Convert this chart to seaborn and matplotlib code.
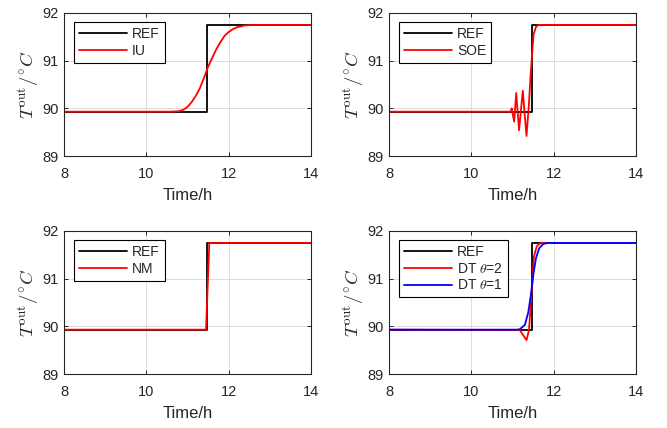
import numpy as np
import pandas as pd
import matplotlib
matplotlib.use("Agg")
import matplotlib.pyplot as plt
import seaborn as sns

# reference step
t_ref = [8, 11.48, 11.48, 14]
y_ref = [89.93, 89.93, 91.75, 91.75]

# IU
t_iu = [8, 10.6, 10.8, 10.9, 11.0, 11.1, 11.2, 11.3, 11.4, 11.5, 11.6, 11.7,
        11.8, 11.9, 12.0, 12.1, 12.2, 12.3, 12.4, 12.6, 12.8, 14]
y_iu = [89.93, 89.93, 89.94, 89.97, 90.03, 90.13, 90.26, 90.42, 90.64, 90.87,
        91.06, 91.24, 91.39, 91.52, 91.60, 91.66, 91.70, 91.72, 91.74, 91.75,
        91.75, 91.75]

# SOE
t_soe = [8, 10.96, 10.98, 11.00, 11.04, 11.09, 11.16, 11.25, 11.34, 11.40,
         11.44, 11.47, 11.51, 11.57, 11.63, 11.70, 14]
y_soe = [89.93, 89.93, 90.00, 89.90, 89.72, 90.32, 89.54, 90.37, 89.42, 90.10,
         90.70, 91.06, 91.54, 91.71, 91.75, 91.75, 91.75]

# NM
t_nm = [8, 11.45, 11.53, 14]
y_nm = [89.93, 89.93, 91.75, 91.75]

# DT theta=2
t_dt2 = [8, 11.18, 11.34, 11.40, 11.47, 11.52, 11.59, 11.65, 11.71, 14]
y_dt2 = [89.93, 89.92, 89.71, 89.92, 90.76, 91.46, 91.68, 91.73, 91.75, 91.75]

# DT theta=1
t_dt1 = [8, 11.10, 11.18, 11.30, 11.38, 11.44, 11.51, 11.57, 11.65, 11.75,
         11.87, 12.0, 14]
y_dt1 = [89.93, 89.93, 89.94, 90.03, 90.28, 90.62, 91.11, 91.43, 91.64,
         91.73, 91.75, 91.75, 91.75]

panels = [
    [("REF", t_ref, y_ref, "black"), ("IU", t_iu, y_iu, "red")],
    [("REF", t_ref, y_ref, "black"), ("SOE", t_soe, y_soe, "red")],
    [("REF", t_ref, y_ref, "black"), ("NM", t_nm, y_nm, "red")],
    [("REF", t_ref, y_ref, "black"), (r"DT $\theta$=2", t_dt2, y_dt2, "red"),
     (r"DT $\theta$=1", t_dt1, y_dt1, "blue")],
]

sns.set_theme(style="ticks")
plt.rcParams["font.family"] = ["Liberation Sans", "DejaVu Sans"]
plt.rcParams["mathtext.fontset"] = "cm"

axcol = "#262626"
fig = plt.figure(figsize=(6.67, 4.28), dpi=100)

positions = [
    (64 / 667, 1 - 156 / 428, 247 / 667, 143 / 428),
    (389 / 667, 1 - 156 / 428, 247 / 667, 143 / 428),
    (64 / 667, 1 - 374 / 428, 247 / 667, 143 / 428),
    (389 / 667, 1 - 374 / 428, 247 / 667, 143 / 428),
]

for pos, series in zip(positions, panels):
    ax = fig.add_axes(pos)
    for label, t, y, c in series:
        df = pd.DataFrame({"t": t, "y": y})
        sns.lineplot(data=df, x="t", y="y", ax=ax, color=c, lw=1.3,
                     label=label, estimator=None, sort=False)
    ax.set_xlim(8, 14)
    ax.set_ylim(89, 92)
    ax.set_xticks([8, 10, 12, 14])
    ax.set_yticks([89, 90, 91, 92])
    ax.grid(True, color="#dcdcdc", lw=0.7)
    ax.tick_params(direction="in", length=2.8, width=0.7, colors=axcol,
                   labelsize=10.5, top=True, right=True, labelcolor=axcol)
    ax.tick_params(axis="x", pad=8)
    ax.tick_params(axis="y", pad=4)
    for s in ax.spines.values():
        s.set_color(axcol)
        s.set_linewidth(0.8)
    ax.set_xlabel("Time/h", fontsize=12, color=axcol, labelpad=5)
    ax.set_ylabel(r"$T^{\rm out}/^{\circ}C$", fontsize=13.5, color=axcol,
                  labelpad=0.5)
    leg = ax.legend(loc="upper left", bbox_to_anchor=(0.04, 0.937),
                    borderaxespad=0, fancybox=False, framealpha=1,
                    edgecolor="black", fontsize=10, handlelength=3.5,
                    handletextpad=0.35, labelspacing=0.2, borderpad=0.35)
    leg.get_frame().set_linewidth(0.8)
    for txt in leg.get_texts():
        txt.set_color(axcol)

fig.savefig("out.png", dpi=100)
